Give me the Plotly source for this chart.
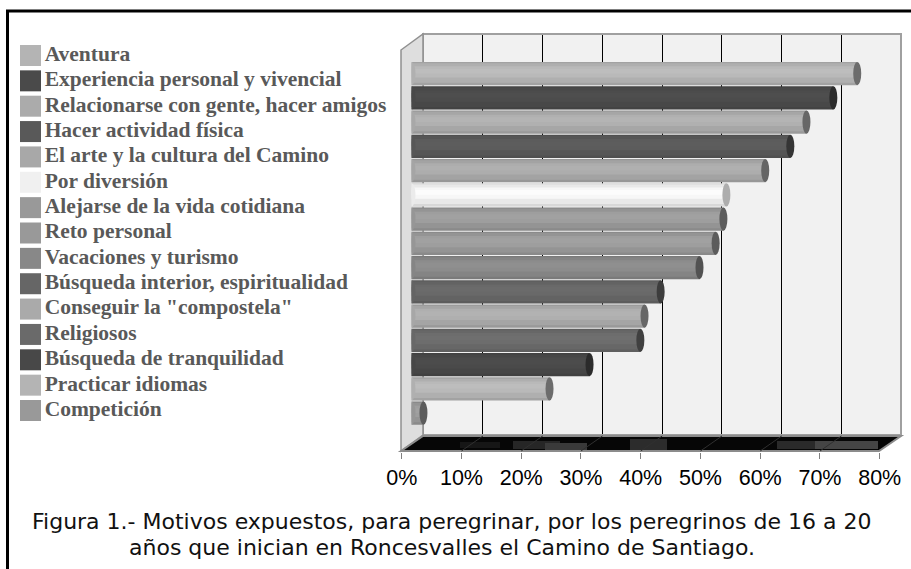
import plotly.graph_objects as go

W, H = 911, 569

# Motivos, top to bottom as in the legend
categories = [
    "Aventura", "Experiencia personal y vivencial", "Relacionarse con gente, hacer amigos",
    "Hacer actividad física", "El arte y la cultura del Camino", "Por diversión",
    "Alejarse de la vida cotidiana", "Reto personal", "Vacaciones y turismo",
    "Búsqueda interior, espiritualidad", "Conseguir la \"compostela\"", "Religiosos",
    "Búsqueda de tranquilidad", "Practicar idiomas", "Competición",
]
values = [74.6, 70.6, 66.1, 63.4, 59.2, 52.7, 52.2, 50.9, 48.2, 41.7, 39.0, 38.3, 29.8, 23.1, 2.0]
tick_values = [0, 10, 20, 30, 40, 50, 60, 70, 80]
tick_labels = ["0%", "10%", "20%", "30%", "40%", "50%", "60%", "70%", "80%"]

# grey of each series
greys = [180, 74, 171, 89, 168, 240, 153, 153, 136, 102, 170, 106, 72, 180, 153]
TEXT_GREY = "#595959"


def px(x):
    return x / W


def py(y):
    return 1 - y / H


def shade(g, f):
    v = max(0, min(255, round(g * f)))
    return f"rgb({v},{v},{v})"


def poly(points, fill, line=None, width=0, layer="below"):
    path = "M " + " L ".join(f"{px(x)},{py(y)}" for x, y in points) + " Z"
    return dict(type="path", xref="paper", yref="paper", path=path, fillcolor=fill,
                line=dict(color=line or fill, width=width), layer=layer)


def seg(x0, y0, x1, y1, color, width, layer="below"):
    return dict(type="line", xref="paper", yref="paper", x0=px(x0), y0=py(y0), x1=px(x1), y1=py(y1),
                line=dict(color=color, width=width), layer=layer)


fig = go.Figure()
shapes = []

# 1. Box around the chart (only left and top edges show)
shapes.append(seg(7.5, 569, 7.5, 11, "black", 3))
shapes.append(seg(6, 11, 911, 11, "black", 3))

# 2. 3D walls and floor
shapes.append(poly([(423, 34), (901, 34), (901, 435), (423, 435)], "#f1f1f1", "#a0a0a0", 2))
shapes.append(poly([(401, 50), (423, 34), (423, 435), (401, 451)], "#dedede", "#909090", 1.5))
shapes.append(poly([(401, 451), (423, 436), (901, 436), (879, 451)], "#060606", "#8c8c8c", 2))
for x0, x1, y0, y1, c in [
    (513, 560, 441, 449, "#262626"), (545, 587, 443, 450, "#3a3a3a"), (630, 667, 439, 450, "#2c2c2c"),
    (777, 815, 441, 449, "#2a2a2a"), (815, 878, 441, 449, "#454545"), (460, 500, 442, 448, "#161616"),
]:
    shapes.append(poly([(x0, y0), (x1, y0), (x1, y1), (x0, y1)], c))
for t in tick_values[1:-1]:
    x = 401.7 + t * 5.975
    shapes.append(seg(x, 451, x + 21.5, 436, "#303030", 1))

# 3. Back wall gridlines
fig.add_trace(go.Scatter(x=[0, 80], y=[0, 1], mode="lines", line=dict(width=0), xaxis="x", yaxis="y",
                         hoverinfo="skip", showlegend=False))
# 4. Front value axis
fig.add_trace(go.Scatter(x=[0, 80], y=[0, 1], mode="lines", line=dict(width=0), xaxis="x2", yaxis="y2",
                         hoverinfo="skip", showlegend=False))

# 5. Cylinders: nested bands, painted outer to inner so no seams show
bands = [(-0.48, 0.96, 0.90), (-0.42, 0.80, 0.97), (-0.30, 0.46, 1.03), (-0.20, 0.20, 1.05)]
for offset, width, factor in bands:
    fig.add_trace(go.Bar(
        y=categories, x=values, orientation="h", xaxis="x3", yaxis="y3",
        offset=offset, width=width, marker=dict(color=[shade(g, factor) for g in greys], line=dict(width=0)),
        hoverinfo="y+x", showlegend=False,
    ))

# round ends of the cylinders
half = 0.67
for i, (v, g) in enumerate(zip(values, greys)):
    shapes.append(dict(type="circle", xref="x3", yref="y3", x0=-half, x1=half, y0=i - 0.48, y1=i + 0.48,
                       fillcolor=shade(g, 0.98), line=dict(width=0), layer="above"))
    shapes.append(dict(type="circle", xref="x3", yref="y3", x0=v - half, x1=v + half, y0=i - 0.48, y1=i + 0.48,
                       fillcolor=shade(g, 0.6 if g < 200 else 0.72), line=dict(width=0), layer="above"))

# 6. Legend, drawn as squares with text
fig.add_trace(go.Scatter(
    x=[30.5] * len(categories), y=categories, xaxis="x4", yaxis="y4", mode="markers+text",
    marker=dict(symbol="square", size=21, color=[shade(g, 1) for g in greys], line=dict(width=0)),
    text=categories, textposition="middle right",
    textfont=dict(family="Liberation Serif", size=21.5, color=TEXT_GREY, weight="bold"),
    cliponaxis=False, hoverinfo="skip", showlegend=False,
))

hidden = dict(visible=False, fixedrange=True)
fig.update_layout(
    template="none",
    width=W, height=H, margin=dict(l=0, r=0, t=0, b=0, pad=0), autosize=False,
    paper_bgcolor="white", plot_bgcolor="rgba(0,0,0,0)", barmode="overlay", showlegend=False,
    font=dict(family="Liberation Sans", color="black"),
    xaxis=dict(domain=[px(423), px(901)], range=[0, 80], tickvals=tick_values, showgrid=True, gridcolor="black",
               gridwidth=1, showticklabels=False, ticks="", zeroline=False, showline=False, anchor="y", fixedrange=True),
    yaxis=dict(domain=[py(433.5), py(35)], range=[0, 1], **hidden),
    xaxis2=dict(domain=[px(401.7), px(879.7)], range=[0, 80], tickvals=tick_values, ticktext=tick_labels,
                ticks="outside", ticklen=6, tickcolor="#808080", tickwidth=1, showgrid=False, zeroline=False,
                showline=False, tickfont=dict(family="Liberation Sans", size=21.5, color="black"),
                anchor="y2", fixedrange=True),
    yaxis2=dict(domain=[py(452), py(50)], range=[0, 1], **hidden),
    xaxis3=dict(domain=[px(411.5), px(889.5)], range=[0, 80], anchor="y3", **hidden),
    yaxis3=dict(domain=[py(425.2), py(61.4)], range=[14.5, -0.5], categoryorder="array", categoryarray=categories,
                type="category", anchor="x3", **hidden),
    xaxis4=dict(domain=[0, 1], range=[0, W], anchor="y4", **hidden),
    yaxis4=dict(domain=[py(423.2), py(42.8)], range=[14.5, -0.5], categoryorder="array", categoryarray=categories,
                type="category", anchor="x4", **hidden),
    shapes=shapes,
    annotations=[
        dict(text="Figura 1.- Motivos expuestos, para peregrinar, por los peregrinos de 16 a 20",
             xref="paper", yref="paper", x=px(451), y=py(521), showarrow=False, xanchor="center", yanchor="middle",
             font=dict(family="DejaVu Sans", size=22, color="#111111")),
        dict(text="años que inician en Roncesvalles el Camino de Santiago.",
             xref="paper", yref="paper", x=px(442), y=py(547), showarrow=False, xanchor="center", yanchor="middle",
             font=dict(family="DejaVu Sans", size=22, color="#111111")),
    ],
)

fig.write_html("out.html", config=dict(displayModeBar=False),
               post_script="document.body.style.margin='0';document.body.style.overflow='hidden';")
